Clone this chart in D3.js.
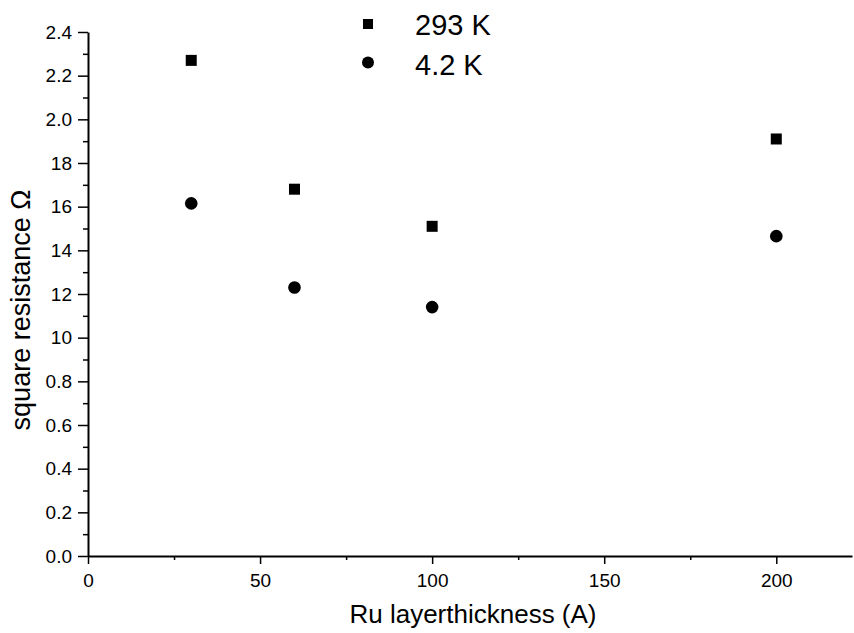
<!DOCTYPE html>
<html>
<head>
<meta charset="utf-8">
<script src="https://d3js.org/d3.v7.min.js"></script>
<style>
  body { margin: 0; background: #fff; }
  svg { display: block; font-family: "Liberation Sans", Arial, sans-serif; }
  .axis path, .axis line { stroke: #000; }
  .axis text { font-size: 19px; fill: #000; font-family: "Liberation Sans", Arial, sans-serif; }
</style>
</head>
<body>
<div id="chart"></div>
<script>
// data
const thickness = [30, 60, 100, 200];
const res293K = [2.27, 1.68, 1.51, 1.91];
const res4K = [1.615, 1.23, 1.14, 1.465];

const seriesNames = ["293 K", "4.2 K"];

const yTickValues = [0, 0.2, 0.4, 0.6, 0.8, 1.0, 1.2, 1.4, 1.6, 1.8, 2.0, 2.2, 2.4];
const yTickLabels = ["0.0", "0.2", "0.4", "0.6", "0.8", "10", "12", "14", "16", "18", "2.0", "2.2", "2.4"];
const yMinorTicks = [0.1, 0.3, 0.5, 0.7, 0.9, 1.1, 1.3, 1.5, 1.7, 1.9, 2.1, 2.3];
const xTickValues = [0, 50, 100, 150, 200];
const xTickLabels = ["0", "50", "100", "150", "200"];
const xMinorTicks = [25, 75, 125, 175];

const w = 854,
      h = 633;

let svg = d3.select('#chart')
  .append('svg')
  .attr('width', w)
  .attr('height', h);

// scales
let xScale = d3.scaleLinear().domain([0, 222]).range([88, 852]);
let yScale = d3.scaleLinear().domain([0, 2.4]).range([556, 32]);

// minor ticks first, then the main axes on top
svg.append('g')
  .attr('class', 'axis')
  .attr('transform', 'translate(0,' + yScale(0) + ')')
  .call(d3.axisBottom(xScale).tickValues(xMinorTicks).tickSize(4).tickFormat(''))
  .call(g => g.select('.domain').remove())
  .selectAll('line').attr('stroke-width', 1.5);

svg.append('g')
  .attr('class', 'axis')
  .attr('transform', 'translate(' + xScale(0) + ',0)')
  .call(d3.axisLeft(yScale).tickValues(yMinorTicks).tickSize(5).tickFormat(''))
  .call(g => g.select('.domain').remove())
  .selectAll('line').attr('stroke-width', 1.5);

let xAxis = d3.axisBottom(xScale)
  .tickValues(xTickValues)
  .tickSize(8)
  .tickSizeOuter(0)
  .tickPadding(10)
  .tickFormat((d, i) => xTickLabels[i]);

let gx = svg.append('g')
  .attr('class', 'axis')
  .attr('transform', 'translate(0,' + yScale(0) + ')')
  .call(xAxis);
gx.select('.domain').attr('stroke-width', 2);
gx.selectAll('line').attr('stroke-width', 1.5);

let yAxis = d3.axisLeft(yScale)
  .tickValues(yTickValues)
  .tickSize(10)
  .tickSizeOuter(0)
  .tickPadding(6)
  .tickFormat((d, i) => yTickLabels[i]);

let gy = svg.append('g')
  .attr('class', 'axis')
  .attr('transform', 'translate(' + xScale(0) + ',0)')
  .call(yAxis);
gy.select('.domain').attr('stroke-width', 2);
gy.selectAll('line').attr('stroke-width', 1.5);

// axis titles
svg.append('text')
  .attr('x', 473)
  .attr('y', 623)
  .attr('text-anchor', 'middle')
  .attr('font-size', 26)
  .text('Ru layerthickness (A)');

svg.append('text')
  .attr('transform', 'translate(30,310) rotate(-90)')
  .attr('text-anchor', 'middle')
  .attr('font-size', 27)
  .text('square resistance \u03A9');

// points
const sq = 11;
svg.append('g')
  .selectAll('rect')
  .data(thickness)
  .enter()
  .append('rect')
  .attr('x', (d) => xScale(d) - sq / 2)
  .attr('y', (d, i) => yScale(res293K[i]) - sq / 2)
  .attr('width', sq)
  .attr('height', sq)
  .attr('fill', '#000');

svg.append('g')
  .selectAll('circle')
  .data(thickness)
  .enter()
  .append('circle')
  .attr('cx', (d) => xScale(d))
  .attr('cy', (d, i) => yScale(res4K[i]))
  .attr('r', 6.3)
  .attr('fill', '#000');

// legend
let legend = svg.append('g');
legend.append('rect')
  .attr('x', 363).attr('y', 19)
  .attr('width', 10).attr('height', 10)
  .attr('fill', '#000');
legend.append('circle')
  .attr('cx', 368).attr('cy', 62.5)
  .attr('r', 6)
  .attr('fill', '#000');
legend.selectAll('text')
  .data(seriesNames)
  .enter()
  .append('text')
  .attr('x', 415)
  .attr('y', (d, i) => 35 + i * 40)
  .attr('font-size', 29)
  .text(d => d);
</script>
</body>
</html>
